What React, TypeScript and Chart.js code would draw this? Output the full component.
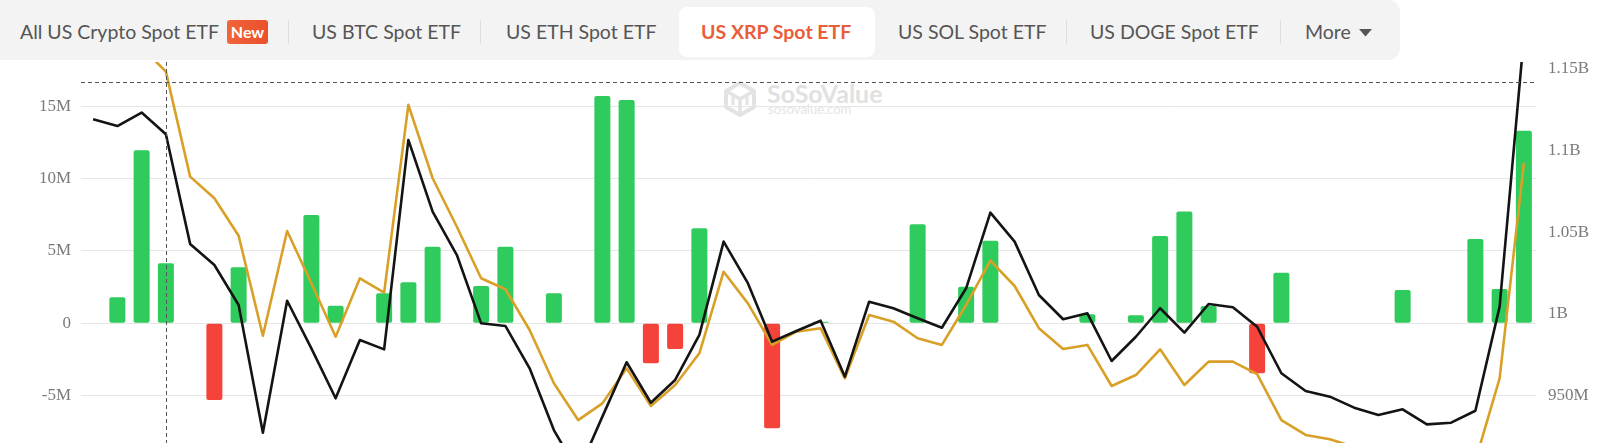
import React, { useEffect, useRef } from "react";
import { Chart, registerables } from "chart.js";

Chart.register(...registerables);

// ---- data ----
const categories = [
  "Nov 13", "Nov 14", "Nov 17", "Nov 18", "Nov 19", "Nov 20", "Nov 21", "Nov 24", "Nov 25", "Nov 26",
  "Nov 28", "Dec 01", "Dec 02", "Dec 03", "Dec 04", "Dec 05", "Dec 08", "Dec 09", "Dec 10", "Dec 11",
  "Dec 12", "Dec 15", "Dec 16", "Dec 17", "Dec 18", "Dec 19", "Dec 22", "Dec 23", "Dec 24", "Dec 26",
  "Dec 29", "Dec 30", "Dec 31", "Jan 02", "Jan 05", "Jan 06", "Jan 07", "Jan 08", "Jan 09", "Jan 12",
  "Jan 13", "Jan 14", "Jan 15", "Jan 16", "Jan 20", "Jan 21", "Jan 22", "Jan 23", "Jan 26", "Jan 27",
  "Jan 28", "Jan 29", "Jan 30", "Feb 02", "Feb 03", "Feb 04", "Feb 05", "Feb 06", "Feb 09", "Feb 10",
];

// daily net inflow, million USD (left axis)
const dailyNetInflow: (number | null)[] = [
  null, 1.8, 11.95, 4.14, null, -5.3, 3.87, null, null, 7.48,
  1.22, null, 2.07, 2.83, 5.29, null, 2.58, 5.29, null, 2.07,
  null, 15.7, 15.42, -2.76, -1.77, 6.56, null, null, -7.25, null,
  0.1, null, null, null, 6.84, null, 2.53, 5.71, null, null,
  null, 0.62, null, 0.55, 6.03, 7.73, 1.2, null, -3.45, 3.49,
  null, null, null, null, 2.3, null, null, 5.82, 2.37, 13.3,
];

// total net assets, million USD (right axis) - black line
const totalNetAssets = [
  1118.9, 1114.8, 1123.0, 1109.8, 1042.8, 1029.9, 1005.5, 927.5, 1008.1, 979.0,
  948.5, 984.1, 978.4, 1106.3, 1062.5, 1036.0, 994.3, 992.7, 966.8, 929.1,
  903.5, 937.3, 970.5, 945.8, 959.7, 987.2, 1044.2, 1018.8, 983.1, 989.6,
  995.9, 961.7, 1007.5, 1003.5, 997.4, 991.6, 1015.7, 1061.9, 1044.2, 1011.6,
  996.8, 1000.4, 971.3, 986.1, 1003.5, 988.6, 1006.1, 1004.1, 992.2, 963.8,
  953.0, 949.5, 942.8, 938.3, 941.8, 932.6, 933.6, 940.9, 1004.5, 1169.2,
];

// second line (gold), plotted on right axis units
const goldLine = [
  1165, 1160, 1163, 1148.0, 1083.9, 1070.7, 1047.8, 986.7, 1050.7, 1018.8,
  986.1, 1021.8, 1013.0, 1127.7, 1082.9, 1053.3, 1021.8, 1015.1, 990.2, 957.7,
  935.2, 945.4, 966.8, 943.8, 956.6, 976.0, 1025.8, 1006.5, 981.1, 989.2,
  991.3, 960.7, 999.4, 995.3, 985.2, 981.1, 1005.5, 1032.6, 1017.1, 991.3,
  978.6, 981.1, 956.0, 962.7, 978.4, 956.6, 970.9, 970.9, 963.3, 935.2,
  926.1, 923.5, 918.8, 915.7, 913.9, 910.8, 909.6, 910.2, 960.7, 1092.1,
];

const LEFT_MIN = -8.27;
const LEFT_MAX = 18.05;
const LEFT_STEP = 5;
const RIGHT_MIN = 921.2;
const RIGHT_MAX = 1153.9;
const RIGHT_STEP = 50;

const CROSSHAIR_INDEX = 3;
const CROSSHAIR_VALUE = 16.69;

const tabs = [
  { label: "All US Crypto Spot ETF", left: 20, active: false },
  { label: "US BTC Spot ETF", left: 312, active: false },
  { label: "US ETH Spot ETF", left: 506, active: false },
  { label: "US XRP Spot ETF", left: 701, active: true },
  { label: "US SOL Spot ETF", left: 898, active: false },
  { label: "US DOGE Spot ETF", left: 1090, active: false },
  { label: "More", left: 1305, active: false },
];
const separators = [288, 480, 1066, 1280];

const GREEN = "#2fcb5c";
const RED = "#f5423a";

const crosshairPlugin = {
  id: "crosshair",
  afterDatasetsDraw(chart: any) {
    const { ctx, chartArea, scales } = chart;
    const x = Math.round(scales.x.getPixelForValue(CROSSHAIR_INDEX)) + 0.5;
    const y = Math.round(scales.y.getPixelForValue(CROSSHAIR_VALUE)) + 0.5;
    ctx.save();
    ctx.setLineDash([4, 3]);
    ctx.strokeStyle = "#555";
    ctx.lineWidth = 1;
    ctx.beginPath();
    ctx.moveTo(x, chartArea.top);
    ctx.lineTo(x, chartArea.bottom);
    ctx.moveTo(chartArea.left, y);
    ctx.lineTo(chartArea.right, y);
    ctx.stroke();
    ctx.restore();
  },
};

function ChartCanvas() {
  const ref = useRef<HTMLCanvasElement | null>(null);
  useEffect(() => {
    if (!ref.current) return;
    const chart = new Chart(ref.current, {
      type: "bar",
      data: {
        labels: categories,
        datasets: [
          {
            type: "line",
            label: "Total Net Assets",
            data: totalNetAssets,
            yAxisID: "y1",
            borderColor: "#141414",
            borderWidth: 2.6,
            pointRadius: 0,
            tension: 0,
            borderJoinStyle: "round",
            order: 0,
          } as any,
          {
            type: "line",
            label: "Line 2",
            data: goldLine,
            yAxisID: "y1",
            borderColor: "#d9a028",
            borderWidth: 2.6,
            pointRadius: 0,
            tension: 0,
            borderJoinStyle: "round",
            order: 1,
          } as any,
          {
            type: "bar",
            label: "Daily Net Inflow",
            data: dailyNetInflow,
            yAxisID: "y",
            backgroundColor: dailyNetInflow.map((v) => ((v ?? 0) >= 0 ? GREEN : RED)),
            borderRadius: 2,
            borderSkipped: false,
            barPercentage: 0.66,
            categoryPercentage: 1,
            order: 2,
          } as any,
        ],
      },
      options: {
        animation: false,
        responsive: false,
        layout: { padding: { top: 62, bottom: 0, left: 0, right: 0 } },
        plugins: { legend: { display: false }, tooltip: { enabled: false } },
        scales: {
          x: { display: false, offset: true, grid: { display: false } },
          y: {
            position: "left",
            min: LEFT_MIN,
            max: LEFT_MAX,
            border: { display: false },
            grid: { color: "#e6e6e6", drawTicks: false, lineWidth: 1 },
            ticks: {
              stepSize: LEFT_STEP,
              includeBounds: false,
              padding: 10,
              color: "#7a7a7a",
              font: { family: "'Liberation Serif', serif", size: 17 },
              callback: (v: any) => (Number(v) === 0 ? "0" : `${v}M`),
            },
            afterFit: (s: any) => {
              s.width = 81;
              s.paddingTop = 0;
              s.paddingBottom = 0;
            },
          },
          y1: {
            position: "right",
            min: RIGHT_MIN,
            max: RIGHT_MAX,
            border: { display: false },
            grid: { display: false, drawTicks: false },
            ticks: {
              stepSize: RIGHT_STEP,
              includeBounds: false,
              padding: 12,
              color: "#7a7a7a",
              font: { family: "'Liberation Serif', serif", size: 17 },
              callback: (v: any) => {
                const n = Number(v);
                return n >= 1000 ? `${n / 1000}B` : `${n}M`;
              },
            },
            afterFit: (s: any) => {
              s.width = 64;
              s.paddingTop = 0;
              s.paddingBottom = 0;
            },
          },
        },
      } as any,
      plugins: [crosshairPlugin],
    });
    return () => chart.destroy();
  }, []);
  return (
    <canvas
      ref={ref}
      width={1600}
      height={443}
      style={{ position: "absolute", left: 0, top: 0, width: 1600, height: 443 }}
    />
  );
}

function Watermark() {
  return (
    <div style={{ position: "absolute", left: 0, top: 0, width: 1600, height: 443 }}>
      <svg
        style={{ position: "absolute", left: 722, top: 81 }}
        width={36}
        height={36}
        viewBox="0 0 36 36"
      >
        <path
          d="M18 2 L32 10 L32 26 L18 34 L4 26 L4 10 Z"
          fill="none"
          stroke="#e3e3e3"
          strokeWidth={4}
          strokeLinejoin="round"
        />
        <path d="M4 10 L18 18 L32 10 M18 18 L18 34" fill="none" stroke="#e3e3e3" strokeWidth={3.5} />
        <path d="M11 14 L11 24 M25 14 L25 24" fill="none" stroke="#e3e3e3" strokeWidth={3} />
      </svg>
      <div
        style={{
          position: "absolute",
          left: 767,
          top: 78,
          fontFamily: "Lato, sans-serif",
          fontWeight: 700,
          fontSize: 25,
          lineHeight: "30px",
          color: "#e1e1e1",
          whiteSpace: "nowrap",
        }}
      >
        SoSoValue
      </div>
      <div
        style={{
          position: "absolute",
          left: 768,
          top: 102,
          fontFamily: "Lato, sans-serif",
          fontSize: 13,
          lineHeight: "15.6px",
          color: "#e4e4e4",
          whiteSpace: "nowrap",
        }}
      >
        sosovalue.com
      </div>
    </div>
  );
}

function TabBar() {
  return (
    <div
      style={{
        position: "absolute",
        left: 0,
        top: 0,
        width: 1400,
        height: 60,
        background: "#f3f3f3",
        borderRadius: "0 12px 12px 0",
        fontFamily: "Lato, sans-serif",
      }}
    >
      <div
        style={{
          position: "absolute",
          left: 679,
          top: 7,
          width: 196,
          height: 50,
          background: "#ffffff",
          borderRadius: 8,
        }}
      />
      {separators.map((x) => (
        <div
          key={x}
          style={{ position: "absolute", left: x, top: 20, width: 1, height: 24, background: "#dddddd" }}
        />
      ))}
      {tabs.map((t) => (
        <div
          key={t.label}
          style={{
            position: "absolute",
            left: t.left,
            top: 20,
            fontSize: 19.5,
            lineHeight: "24px",
            fontWeight: t.active ? 700 : 400,
            color: t.active ? "#e95d3a" : "#555555",
            whiteSpace: "nowrap",
          }}
        >
          {t.label}
        </div>
      ))}
      <div
        style={{
          position: "absolute",
          left: 227,
          top: 20,
          width: 41,
          height: 24,
          borderRadius: 3,
          background: "linear-gradient(90deg, #f0653a, #ea4f2b)",
          color: "#ffffff",
          fontWeight: 700,
          fontSize: 16,
          lineHeight: "24px",
          textAlign: "center",
        }}
      >
        New
      </div>
      <svg style={{ position: "absolute", left: 1359, top: 29 }} width={13} height={8} viewBox="0 0 13 8">
        <polygon points="0,0 13,0 6.5,7.5" fill="#555555" />
      </svg>
    </div>
  );
}

export default function App() {
  return (
    <div
      style={{
        position: "absolute",
        left: 0,
        top: 0,
        width: 1600,
        height: 443,
        overflow: "hidden",
        background: "#ffffff",
      }}
    >
      <Watermark />
      <ChartCanvas />
      <TabBar />
    </div>
  );
}
